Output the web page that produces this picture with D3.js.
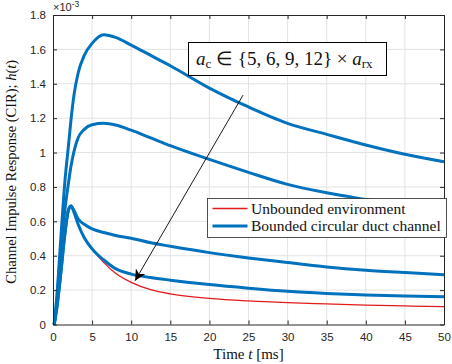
<!DOCTYPE html>
<html>
<head>
<meta charset="utf-8">
<script src="https://cdn.jsdelivr.net/npm/d3@7"></script>
<style>
  body { margin: 0; background: #fff; }
  svg { display: block; }
</style>
</head>
<body>
<div id="chart"></div>
<script>
// time axis shared by every curve, in ms
const times = [0.15, 0.5, 1.0, 1.5, 2.0, 2.3, 2.7, 3.2, 4, 5, 6.5, 8, 10, 12.5, 15, 20, 25, 30, 35, 40, 45, 50];

// CIR values, in units of 1e-3
const unbounded = [0, 0.1, 0.3, 0.52, 0.67, 0.689, 0.65, 0.585, 0.505, 0.44, 0.36, 0.298, 0.245, 0.203, 0.178, 0.152, 0.137, 0.127, 0.12, 0.113, 0.108, 0.104];
const duct5  = [0, 0.17, 0.5, 0.82, 1.05, 1.19, 1.34, 1.46, 1.565, 1.635, 1.685, 1.67, 1.625, 1.565, 1.505, 1.375, 1.265, 1.17, 1.106, 1.044, 0.99, 0.947];
const duct6  = [0, 0.14, 0.44, 0.66, 0.83, 0.92, 1.01, 1.085, 1.135, 1.162, 1.17, 1.16, 1.13, 1.085, 1.04, 0.96, 0.885, 0.815, 0.766, 0.727, 0.69, 0.66];
const duct9  = [0, 0.1, 0.3, 0.52, 0.67, 0.689, 0.662, 0.615, 0.583, 0.556, 0.535, 0.518, 0.502, 0.475, 0.455, 0.418, 0.387, 0.36, 0.335, 0.316, 0.302, 0.29];
const duct12 = [0, 0.1, 0.3, 0.52, 0.67, 0.689, 0.65, 0.585, 0.505, 0.44, 0.375, 0.325, 0.293, 0.273, 0.258, 0.232, 0.211, 0.193, 0.181, 0.172, 0.166, 0.162];

const xTicks = [0, 5, 10, 15, 20, 25, 30, 35, 40, 45, 50];
const yTicks = [0, 0.2, 0.4, 0.6, 0.8, 1, 1.2, 1.4, 1.6, 1.8];
const legendLabels = ["Unbounded environment", "Bounded circular duct channel"];

// arrow from the annotation box to the curves: [t, h]
const arrowFrom = [24.3, 1.334];
const arrowTo = [10.5, 0.255];

const width = 452, height = 364;
const margin = { left: 53, right: 8, top: 15, bottom: 39.5 };
const blue = "#0072bd", red = "#e31a1c";
const sansFont = "'Liberation Sans', Arial, Helvetica, sans-serif";
const serifFont = "'Liberation Serif', 'Times New Roman', serif";

const svg = d3.select("#chart").append("svg")
    .attr("width", width)
    .attr("height", height);

const x = d3.scaleLinear().domain([0, 50]).range([margin.left, width - margin.right]);
const y = d3.scaleLinear().domain([0, 1.8]).range([height - margin.bottom, margin.top]);

// grid
svg.append("g").selectAll("line").data(xTicks.slice(1, -1)).join("line")
    .attr("x1", d => x(d)).attr("x2", d => x(d))
    .attr("y1", y(0)).attr("y2", y(1.8))
    .attr("stroke", "#e3e3e3").attr("stroke-width", 1);
svg.append("g").selectAll("line").data(yTicks.slice(1, -1)).join("line")
    .attr("x1", x(0)).attr("x2", x(50))
    .attr("y1", d => y(d)).attr("y2", d => y(d))
    .attr("stroke", "#e3e3e3").attr("stroke-width", 1);

// curves
const line = d3.line()
    .x((d, i) => x(times[i]))
    .y(d => y(d))
    .curve(d3.curveMonotoneX);

svg.append("path").datum(unbounded)
    .attr("d", line).attr("fill", "none")
    .attr("stroke", red).attr("stroke-width", 1.3);

[duct5, duct6, duct9, duct12].forEach(s => {
    svg.append("path").datum(s)
        .attr("d", line).attr("fill", "none")
        .attr("stroke", blue).attr("stroke-width", 3)
        .attr("stroke-linejoin", "round");
});

// axes box with inward ticks on all four sides
const axisColor = "#262626";
const tickLen = 4;
const axBottom = svg.append("g").attr("transform", `translate(0,${y(0)})`)
    .call(d3.axisBottom(x).tickValues(xTicks).tickSizeInner(-tickLen).tickSizeOuter(0).tickPadding(8));
const axTop = svg.append("g").attr("transform", `translate(0,${y(1.8)})`)
    .call(d3.axisTop(x).tickValues(xTicks).tickSizeInner(-tickLen).tickSizeOuter(0).tickFormat(""));
const axLeft = svg.append("g").attr("transform", `translate(${x(0)},0)`)
    .call(d3.axisLeft(y).tickValues(yTicks).tickSizeInner(-tickLen).tickSizeOuter(0).tickPadding(7)
        .tickFormat(d => d3.format("~g")(d)));
const axRight = svg.append("g").attr("transform", `translate(${x(50)},0)`)
    .call(d3.axisRight(y).tickValues(yTicks).tickSizeInner(-tickLen).tickSizeOuter(0).tickFormat(""));

[axBottom, axTop, axLeft, axRight].forEach(g => {
    g.attr("font-family", sansFont).attr("font-size", 11.5);
    g.select(".domain").attr("stroke", axisColor).attr("stroke-width", 1);
    g.selectAll(".tick line").attr("stroke", axisColor);
    g.selectAll(".tick text").attr("fill", axisColor);
});

// exponent
const expo = svg.append("text")
    .attr("x", x(0)).attr("y", 11)
    .attr("font-family", sansFont).attr("font-size", 11).attr("fill", axisColor);
expo.append("tspan").text("\u00d710");
expo.append("tspan").attr("dy", -4).attr("font-size", 8.5).text("-3");

// axis labels
const xl = svg.append("text")
    .attr("x", (x(0) + x(50)) / 2).attr("y", 359)
    .attr("text-anchor", "middle")
    .attr("font-family", serifFont).attr("font-size", 15).attr("fill", "#111");
xl.append("tspan").text("Time ");
xl.append("tspan").attr("font-style", "italic").text("t");
xl.append("tspan").text(" [ms]");

const yl = svg.append("text")
    .attr("transform", `translate(16,${(y(0) + y(1.8)) / 2 + 2}) rotate(-90)`)
    .attr("text-anchor", "middle")
    .attr("font-family", serifFont).attr("font-size", 14.5).attr("fill", "#111");
yl.append("tspan").text("Channel Impulse Response (CIR); ");
yl.append("tspan").attr("font-style", "italic").text("h");
yl.append("tspan").text("(");
yl.append("tspan").attr("font-style", "italic").text("t");
yl.append("tspan").text(")");

// annotation arrow
const defs = svg.append("defs");
defs.append("marker")
    .attr("id", "head").attr("viewBox", "0 0 10 10")
    .attr("refX", 10).attr("refY", 5)
    .attr("markerWidth", 11).attr("markerHeight", 11)
    .attr("markerUnits", "userSpaceOnUse")
    .attr("orient", "auto")
    .append("path").attr("d", "M0,0 L10,5 L0,10 L3,5 Z").attr("fill", "#000");

svg.append("line")
    .attr("x1", x(arrowFrom[0])).attr("y1", y(arrowFrom[1]))
    .attr("x2", x(arrowTo[0])).attr("y2", y(arrowTo[1]))
    .attr("stroke", "#000").attr("stroke-width", 0.9)
    .attr("marker-end", "url(#head)");

// annotation box
svg.append("rect")
    .attr("x", 188.5).attr("y", 42.5).attr("width", 198).attr("height", 33)
    .attr("fill", "#fff").attr("stroke", "#000").attr("stroke-width", 1);
const ann = svg.append("text")
    .attr("x", 196).attr("y", 65)
    .attr("font-family", serifFont).attr("font-size", 19).attr("fill", "#111");
ann.append("tspan").attr("font-style", "italic").text("a");
ann.append("tspan").attr("dy", 3).attr("font-size", 13).text("c");
ann.append("tspan").attr("dy", -3).text(" \u2208 {5, 6, 9, 12} \u00d7 ");
ann.append("tspan").attr("font-style", "italic").text("a");
ann.append("tspan").attr("dy", 3).attr("font-size", 13).text("rx");

// legend
const lg = svg.append("g").attr("transform", "translate(207.5,198.5)");
lg.append("rect").attr("width", 239).attr("height", 39)
    .attr("fill", "#fff").attr("stroke", axisColor).attr("stroke-width", 0.8);
const legendColors = [red, blue];
const legendWidths = [1.3, 3];
legendLabels.forEach((label, i) => {
    const yy = 10 + i * 17.5;
    lg.append("line").attr("x1", 5).attr("x2", 40).attr("y1", yy).attr("y2", yy)
        .attr("stroke", legendColors[i]).attr("stroke-width", legendWidths[i]);
    lg.append("text").attr("x", 43.5).attr("y", yy + 5)
        .attr("font-family", serifFont).attr("font-size", 15.5).attr("fill", "#111")
        .text(label);
});
</script>
</body>
</html>
